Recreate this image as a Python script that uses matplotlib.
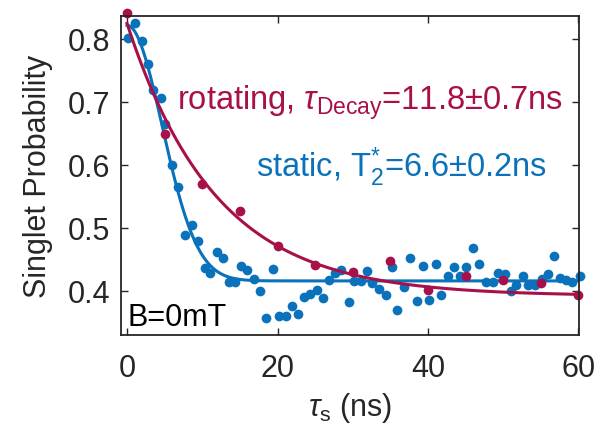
import numpy as np
import matplotlib.pyplot as plt

plt.rcParams['font.family'] = ['Liberation Sans', 'DejaVu Sans']
plt.rcParams['mathtext.fontset'] = 'custom'
plt.rcParams['mathtext.rm'] = 'Liberation Sans'
plt.rcParams['mathtext.it'] = 'Liberation Sans:italic'

# static (blue) data
static_t = [0.18, 1.07, 1.96, 2.84, 3.4, 4.5, 5.07, 5.96, 6.84, 7.7, 8.6, 9.4,
            10.4, 11.0, 11.9, 12.8, 13.5, 14.4, 15.2, 16.0, 16.9, 17.7, 18.5, 19.4,
            20.2, 21.1, 21.9, 22.7, 23.5, 24.3, 25.3, 26.1, 26.9, 27.6, 28.5, 29.5,
            30.2, 31.1, 31.9, 32.6, 33.5, 34.4, 35.2, 35.9, 36.8, 37.6, 38.5, 39.3,
            40.2, 41.0, 41.7, 42.6, 43.5, 44.3, 45.1, 46.0, 46.8, 47.7, 48.6, 49.3,
            50.2, 51.0, 51.7, 52.6, 53.3, 54.2, 55.1, 56.0, 56.8, 57.6, 58.4, 59.1, 60.2]
static_p = [0.801, 0.824, 0.796, 0.760, 0.718, 0.705, 0.665, 0.600, 0.565, 0.489, 0.505, 0.480,
            0.436, 0.429, 0.461, 0.453, 0.414, 0.414, 0.439, 0.434, 0.419, 0.400, 0.358, 0.435,
            0.361, 0.360, 0.376, 0.363, 0.390, 0.396, 0.402, 0.389, 0.418, 0.428, 0.433, 0.383,
            0.416, 0.416, 0.431, 0.412, 0.403, 0.393, 0.438, 0.370, 0.406, 0.453, 0.384, 0.440,
            0.386, 0.443, 0.394, 0.423, 0.438, 0.424, 0.438, 0.468, 0.443, 0.415, 0.415, 0.429,
            0.427, 0.400, 0.410, 0.424, 0.410, 0.410, 0.419, 0.427, 0.456, 0.420, 0.418, 0.415, 0.423]

# rotating (red) data
rot_t = [0, 5, 10, 15, 20, 25, 30, 35, 40, 45, 50, 55, 60]
rot_p = [0.841, 0.648, 0.570, 0.527, 0.471, 0.441, 0.430, 0.448, 0.402, 0.424, 0.417, 0.413, 0.394]

# fit parameters
rot_tau, rot_A, rot_C = 11.8, 0.432, 0.392
st_T2, st_A, st_C = 6.6, 0.405, 0.416

blue = '#0A72BA'
red = '#A8104A'

fig = plt.figure(figsize=(5.99, 4.31), dpi=100)
ax = fig.add_axes([0.202, 0.220, 0.765, 0.741])

tt = np.linspace(0, 60, 400)
ax.plot(tt, st_C + st_A * np.exp(-(tt / st_T2) ** 2), color=blue, lw=2.2)
ax.plot(static_t, static_p, 'o', color=blue, ms=7, mew=0, clip_on=False)
ax.plot(tt, rot_C + rot_A * np.exp(-tt / rot_tau), color=red, lw=2.2)
ax.plot(rot_t, rot_p, 'o', color=red, ms=7, mew=0, clip_on=False)

ax.set_xlim(-0.8, 60.1)
ax.set_ylim(0.33, 0.836)
ax.set_xticks([0, 20, 40, 60])
ax.set_yticks([0.4, 0.5, 0.6, 0.7, 0.8])
ax.tick_params(direction='in', top=True, right=True, length=5, width=1,
               labelsize=22, colors='#262626', pad=8)
ax.tick_params(axis='x', pad=13)
for s in ax.spines.values():
    s.set_color('#262626')
    s.set_linewidth(1.3)

ax.set_xlabel(r'$\tau_{\mathrm{s}}$ (ns)', fontsize=22, color='#262626', labelpad=5)
ax.set_ylabel('Singlet Probability', fontsize=22, color='#262626', labelpad=10)

ax.text(6.6, 0.689, r'rotating, $\tau_{\mathrm{Decay}}$=11.8$\pm$0.7ns',
        color=red, fontsize=23.5, va='baseline')
ax.text(17.1, 0.5825, r'static, $\mathrm{T}_{2}^{*}$=6.6$\pm$0.2ns',
        color=blue, fontsize=23.5, va='baseline')
ax.text(0.1, 0.346, 'B=0mT', color='black', fontsize=22, va='baseline')

fig.savefig('out.png', dpi=100)
